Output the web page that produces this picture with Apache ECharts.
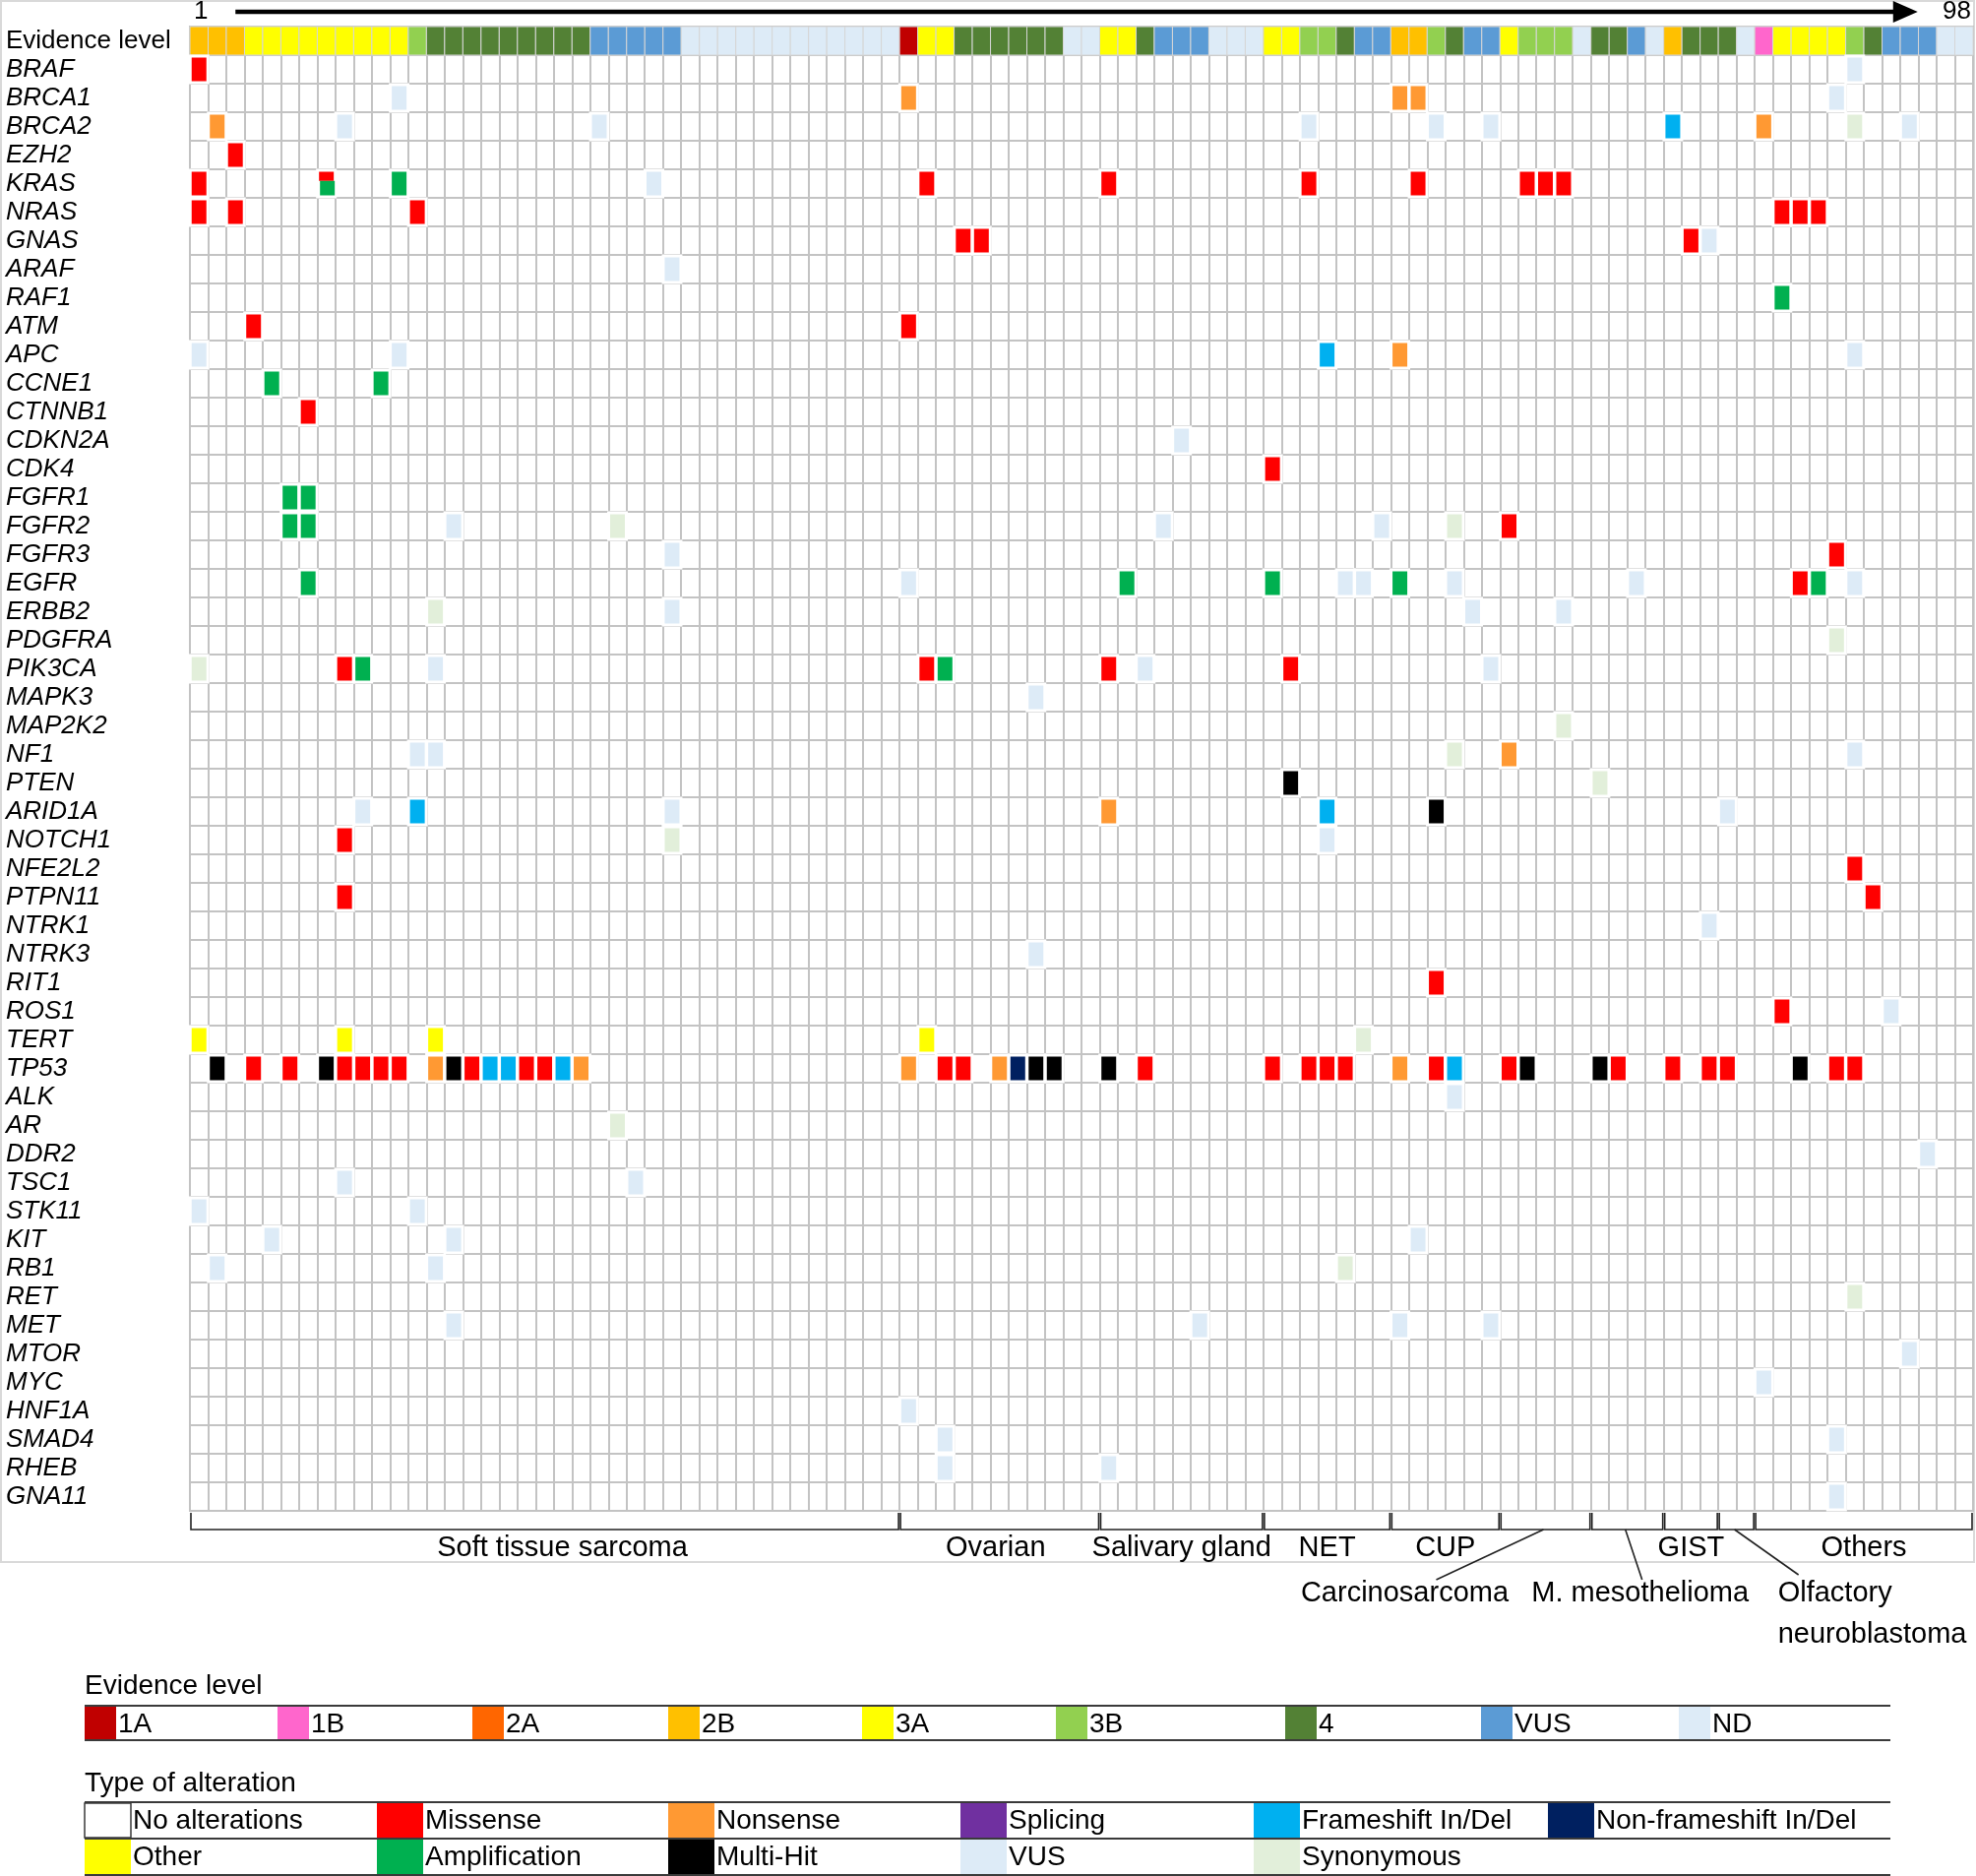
<!DOCTYPE html>
<html>
<head>
<meta charset="utf-8">
<script src="https://cdn.jsdelivr.net/npm/echarts@6/dist/echarts.min.js"></script>
<style>
html, body { margin: 0; padding: 0; background: #fff; }
#charts { width: 2008px; height: 1906px; }
</style>
</head>
<body>
<div id="charts"></div>
<script>
// genes (rows)
var genes = ['BRAF', 'BRCA1', 'BRCA2', 'EZH2', 'KRAS', 'NRAS', 'GNAS', 'ARAF', 'RAF1', 'ATM',
    'APC', 'CCNE1', 'CTNNB1', 'CDKN2A', 'CDK4', 'FGFR1', 'FGFR2', 'FGFR3', 'EGFR', 'ERBB2',
    'PDGFRA', 'PIK3CA', 'MAPK3', 'MAP2K2', 'NF1', 'PTEN', 'ARID1A', 'NOTCH1', 'NFE2L2', 'PTPN11',
    'NTRK1', 'NTRK3', 'RIT1', 'ROS1', 'TERT', 'TP53', 'ALK', 'AR', 'DDR2', 'TSC1',
    'STK11', 'KIT', 'RB1', 'RET', 'MET', 'MTOR', 'MYC', 'HNF1A', 'SMAD4', 'RHEB', 'GNA11'];

// samples 1..98
var samples = [];
for (var n = 1; n <= 98; n++) samples.push(String(n));

// evidence level per sample
var evidence = [
    '2B','2B','2B','3A','3A','3A','3A','3A','3A','3A',
    '3A','3A','3B','4','4','4','4','4','4','4',
    '4','4','VUS','VUS','VUS','VUS','VUS','ND','ND','ND',
    'ND','ND','ND','ND','ND','ND','ND','ND','ND','1A',
    '3A','3A','4','4','4','4','4','4','ND','ND',
    '3A','3A','4','VUS','VUS','VUS','ND','ND','ND','3A',
    '3A','3B','3B','4','VUS','VUS','2B','2B','3B','4',
    'VUS','VUS','3A','3B','3B','3B','ND','4','4','VUS',
    'ND','2B','4','4','4','ND','1B','3A','3A','3A',
    '3A','3B','4','VUS','VUS','VUS','ND','ND'
];
var evidenceNames = ['1A', '1B', '2A', '2B', '3A', '3B', '4', 'VUS', 'ND'];
var evidenceColors = ['#C00000', '#FF66CC', '#FF6600', '#FFC000', '#FFFF00', '#92D050', '#538135', '#5B9BD5', '#DDEBF7'];

// alteration types
var alterTypes = ['No alterations', 'Missense', 'Nonsense', 'Splicing', 'Frameshift In/Del', 'Non-frameshift In/Del',
    'Other', 'Amplification', 'Multi-Hit', 'VUS', 'Synonymous'];
var alterColors = ['#FFFFFF', '#FF0000', '#FF9933', '#7030A0', '#00B0F0', '#002060',
    '#FFFF00', '#00B050', '#000000', '#DDEBF7', '#E2EFDA'];

// [gene, sample, type]  ('+' joins two alterations in one cell)
var alterations = [
    ['BRAF',1,'Missense'],['BRAF',92,'VUS'],
    ['BRCA1',12,'VUS'],['BRCA1',40,'Nonsense'],['BRCA1',67,'Nonsense'],['BRCA1',68,'Nonsense'],['BRCA1',91,'VUS'],
    ['BRCA2',2,'Nonsense'],['BRCA2',9,'VUS'],['BRCA2',23,'VUS'],['BRCA2',62,'VUS'],['BRCA2',69,'VUS'],['BRCA2',72,'VUS'],
    ['BRCA2',82,'Frameshift In/Del'],['BRCA2',87,'Nonsense'],['BRCA2',92,'Synonymous'],['BRCA2',95,'VUS'],
    ['EZH2',3,'Missense'],
    ['KRAS',1,'Missense'],['KRAS',8,'Missense+Amplification'],['KRAS',12,'Amplification'],['KRAS',26,'VUS'],['KRAS',41,'Missense'],
    ['KRAS',51,'Missense'],['KRAS',62,'Missense'],['KRAS',68,'Missense'],['KRAS',74,'Missense'],['KRAS',75,'Missense'],['KRAS',76,'Missense'],
    ['NRAS',1,'Missense'],['NRAS',3,'Missense'],['NRAS',13,'Missense'],['NRAS',88,'Missense'],['NRAS',89,'Missense'],['NRAS',90,'Missense'],
    ['GNAS',43,'Missense'],['GNAS',44,'Missense'],['GNAS',83,'Missense'],['GNAS',84,'VUS'],
    ['ARAF',27,'VUS'],
    ['RAF1',88,'Amplification'],
    ['ATM',4,'Missense'],['ATM',40,'Missense'],
    ['APC',1,'VUS'],['APC',12,'VUS'],['APC',63,'Frameshift In/Del'],['APC',67,'Nonsense'],['APC',92,'VUS'],
    ['CCNE1',5,'Amplification'],['CCNE1',11,'Amplification'],
    ['CTNNB1',7,'Missense'],
    ['CDKN2A',55,'VUS'],
    ['CDK4',60,'Missense'],
    ['FGFR1',6,'Amplification'],['FGFR1',7,'Amplification'],
    ['FGFR2',6,'Amplification'],['FGFR2',7,'Amplification'],['FGFR2',15,'VUS'],['FGFR2',24,'Synonymous'],['FGFR2',54,'VUS'],
    ['FGFR2',66,'VUS'],['FGFR2',70,'Synonymous'],['FGFR2',73,'Missense'],
    ['FGFR3',27,'VUS'],['FGFR3',91,'Missense'],
    ['EGFR',7,'Amplification'],['EGFR',40,'VUS'],['EGFR',52,'Amplification'],['EGFR',60,'Amplification'],['EGFR',64,'VUS'],
    ['EGFR',65,'VUS'],['EGFR',67,'Amplification'],['EGFR',70,'VUS'],['EGFR',80,'VUS'],['EGFR',89,'Missense'],
    ['EGFR',90,'Amplification'],['EGFR',92,'VUS'],
    ['ERBB2',14,'Synonymous'],['ERBB2',27,'VUS'],['ERBB2',71,'VUS'],['ERBB2',76,'VUS'],
    ['PDGFRA',91,'Synonymous'],
    ['PIK3CA',1,'Synonymous'],['PIK3CA',9,'Missense'],['PIK3CA',10,'Amplification'],['PIK3CA',14,'VUS'],['PIK3CA',41,'Missense'],
    ['PIK3CA',42,'Amplification'],['PIK3CA',51,'Missense'],['PIK3CA',53,'VUS'],['PIK3CA',61,'Missense'],['PIK3CA',72,'VUS'],
    ['MAPK3',47,'VUS'],
    ['MAP2K2',76,'Synonymous'],
    ['NF1',13,'VUS'],['NF1',14,'VUS'],['NF1',70,'Synonymous'],['NF1',73,'Nonsense'],['NF1',92,'VUS'],
    ['PTEN',61,'Multi-Hit'],['PTEN',78,'Synonymous'],
    ['ARID1A',10,'VUS'],['ARID1A',13,'Frameshift In/Del'],['ARID1A',27,'VUS'],['ARID1A',51,'Nonsense'],
    ['ARID1A',63,'Frameshift In/Del'],['ARID1A',69,'Multi-Hit'],['ARID1A',85,'VUS'],
    ['NOTCH1',9,'Missense'],['NOTCH1',27,'Synonymous'],['NOTCH1',63,'VUS'],
    ['NFE2L2',92,'Missense'],
    ['PTPN11',9,'Missense'],['PTPN11',93,'Missense'],
    ['NTRK1',84,'VUS'],
    ['NTRK3',47,'VUS'],
    ['RIT1',69,'Missense'],
    ['ROS1',88,'Missense'],['ROS1',94,'VUS'],
    ['TERT',1,'Other'],['TERT',9,'Other'],['TERT',14,'Other'],['TERT',41,'Other'],['TERT',65,'Synonymous'],
    ['TP53',2,'Multi-Hit'],['TP53',4,'Missense'],['TP53',6,'Missense'],['TP53',8,'Multi-Hit'],['TP53',9,'Missense'],
    ['TP53',10,'Missense'],['TP53',11,'Missense'],['TP53',12,'Missense'],['TP53',14,'Nonsense'],['TP53',15,'Multi-Hit'],
    ['TP53',16,'Missense'],['TP53',17,'Frameshift In/Del'],['TP53',18,'Frameshift In/Del'],['TP53',19,'Missense'],
    ['TP53',20,'Missense'],['TP53',21,'Frameshift In/Del'],['TP53',22,'Nonsense'],['TP53',40,'Nonsense'],
    ['TP53',42,'Missense'],['TP53',43,'Missense'],['TP53',45,'Nonsense'],['TP53',46,'Non-frameshift In/Del'],
    ['TP53',47,'Multi-Hit'],['TP53',48,'Multi-Hit'],['TP53',51,'Multi-Hit'],['TP53',53,'Missense'],['TP53',60,'Missense'],
    ['TP53',62,'Missense'],['TP53',63,'Missense'],['TP53',64,'Missense'],['TP53',67,'Nonsense'],['TP53',69,'Missense'],
    ['TP53',70,'Frameshift In/Del'],['TP53',73,'Missense'],['TP53',74,'Multi-Hit'],['TP53',78,'Multi-Hit'],
    ['TP53',79,'Missense'],['TP53',82,'Missense'],['TP53',84,'Missense'],['TP53',85,'Missense'],['TP53',89,'Multi-Hit'],
    ['TP53',91,'Missense'],['TP53',92,'Missense'],
    ['ALK',70,'VUS'],
    ['AR',24,'Synonymous'],
    ['DDR2',96,'VUS'],
    ['TSC1',9,'VUS'],['TSC1',25,'VUS'],
    ['STK11',1,'VUS'],['STK11',13,'VUS'],
    ['KIT',5,'VUS'],['KIT',15,'VUS'],['KIT',68,'VUS'],
    ['RB1',2,'VUS'],['RB1',14,'VUS'],['RB1',64,'Synonymous'],
    ['RET',92,'Synonymous'],
    ['MET',15,'VUS'],['MET',56,'VUS'],['MET',67,'VUS'],['MET',72,'VUS'],
    ['MTOR',95,'VUS'],
    ['MYC',87,'VUS'],
    ['HNF1A',40,'VUS'],
    ['SMAD4',42,'VUS'],['SMAD4',91,'VUS'],
    ['RHEB',42,'VUS'],['RHEB',51,'VUS'],
    ['GNA11',91,'VUS']
];

// tumour groups along the samples
var groupNames = ['Soft tissue sarcoma', 'Ovarian', 'Salivary gland', 'NET', 'CUP', 'Carcinosarcoma',
    'M. mesothelioma', 'GIST', 'Olfactory neuroblastoma', 'Others'];
var groupSizes = [39, 11, 9, 7, 6, 5, 4, 3, 2, 12];

(function() {

    var FONT = 'Liberation Sans, Arial, sans-serif';
    var rows = ['Evidence level'].concat(genes);
    var lastRow = genes[genes.length - 1];

    // labels pulled below the bracket with a leader line
    var callouts = {
        'Carcinosarcoma': { line: [-111, 51], x: -143, y: 65, align: 'center' },
        'M. mesothelioma': { line: [15, 51], x: 13, y: 65, align: 'center' },
        'Olfactory neuroblastoma': { line: [63, 46], x: 42, y: 44, align: 'left', text: 'Olfactory\nneuroblastoma' }
    };
    // small horizontal nudges of the plain labels
    var labelShift = { 'Soft tissue sarcoma': 18, 'Ovarian': -4 };

    var evidenceData = evidence.map(function(ev, i) {
        return [i, 'Evidence level', evidenceNames.indexOf(ev)];
    });
    var alterData = alterations.map(function(a) {
        return [a[1] - 1, a[0]];
    });
    var groupData = [];
    var start = 0;
    groupSizes.forEach(function(size, gi) {
        groupData.push([start, lastRow, start + size - 1, gi]);
        start += size;
    });

    //证据等级
    var renderEvidence = function(params, api) {
        var c = api.coord([api.value(0), api.value(1)]);
        var s = api.size([1, 1]);
        return {
            type: 'rect',
            shape: { x: c[0] - s[0] / 2, y: c[1] - s[1] / 2, width: s[0], height: s[1] },
            style: { fill: evidenceColors[api.value(2)], stroke: '#d6d6d6', lineWidth: 1 }
        };
    };

    //突变格子
    var renderAlter = function(params, api) {
        var c = api.coord([api.value(0), api.value(1)]);
        var s = api.size([1, 1]);
        var w = s[0] - 0.5, h = s[1] - 2;
        var x = c[0] - w / 2, y = c[1] - h / 2;
        var types = alterations[params.dataIndex][2].split('+');
        if (types.length === 1) {
            return {
                type: 'rect',
                shape: { x: x, y: y, width: w, height: h },
                style: { fill: alterColors[alterTypes.indexOf(types[0])], stroke: '#fff', lineWidth: 3 }
            };
        }
        var topH = h * 0.4;
        return {
            type: 'group',
            children: [
                { type: 'rect', shape: { x: x, y: y, width: w, height: h }, style: { fill: '#fff', stroke: '#fff', lineWidth: 3 } },
                { type: 'rect', shape: { x: x + 1.5, y: y + 1.5, width: w - 3, height: topH - 1.5 },
                    style: { fill: alterColors[alterTypes.indexOf(types[0])] } },
                { type: 'rect', shape: { x: x + 2.5, y: y + topH, width: w - 3, height: h - topH - 1.5 },
                    style: { fill: alterColors[alterTypes.indexOf(types[1])] } }
            ]
        };
    };

    //分组括号
    var renderGroup = function(params, api) {
        var a = api.coord([api.value(0), api.value(1)]);
        var b = api.coord([api.value(2), api.value(1)]);
        var s = api.size([1, 1]);
        var x0 = a[0] - s[0] / 2, x1 = b[0] + s[0] / 2;
        var yTop = a[1] + s[1] / 2 + 2;
        var yLine = yTop + 17;
        var name = groupNames[api.value(3)];
        var cx = (x0 + x1) / 2;
        var children = [{
            type: 'polyline',
            shape: { points: [[x0 + 1, yTop], [x0 + 1, yLine], [x1 - 1, yLine], [x1 - 1, yTop]] },
            style: { stroke: '#222', lineWidth: 1.6, fill: null }
        }];
        var co = callouts[name];
        if (co) {
            children.push({
                type: 'line',
                shape: { x1: cx - 2, y1: yLine, x2: cx + co.line[0], y2: yLine + co.line[1] },
                style: { stroke: '#222', lineWidth: 1.6 }
            });
            children.push({
                type: 'text',
                style: {
                    text: co.text || name, x: cx + co.x, y: yLine + co.y,
                    align: co.align, verticalAlign: co.text ? 'top' : 'middle',
                    font: '29px ' + FONT, fill: '#000', lineHeight: 42
                }
            });
        } else {
            children.push({
                type: 'text',
                style: { text: name, x: cx + (labelShift[name] || 0), y: yLine + 19, align: 'center', verticalAlign: 'middle', font: '29px ' + FONT, fill: '#000' }
            });
        }
        return { type: 'group', children: children };
    };

    //顶部箭头
    var renderArrow = function(params, api) {
        var a = api.coord([api.value(0), api.value(1)]);
        var b = api.coord([api.value(2), api.value(1)]);
        var s = api.size([1, 1]);
        var y = a[1] - s[1] / 2 - 15;
        var tip = b[0] - 47;
        return {
            type: 'group',
            children: [
                { type: 'text', style: { text: samples[0], x: a[0] + 2, y: y, align: 'center', verticalAlign: 'middle', font: '26px ' + FONT, fill: '#000' } },
                { type: 'line', shape: { x1: a[0] + 37, y1: y, x2: tip - 20, y2: y }, style: { stroke: '#000', lineWidth: 4.5 } },
                { type: 'polygon', shape: { points: [[tip - 25, y - 11], [tip, y], [tip - 25, y + 11]] }, style: { fill: '#000' } },
                { type: 'text', style: { text: samples[samples.length - 1], x: b[0] + s[0] / 2 - 2, y: y, align: 'right', verticalAlign: 'middle', font: '26px ' + FONT, fill: '#000' } }
            ]
        };
    };

    //图例
    var legendGraphic = function() {
        var g = [];
        var lineX0 = 86, lineX1 = 1921;
        var txt = function(t, x, y) {
            return { type: 'text', style: { text: t, x: x, y: y, verticalAlign: 'middle', font: '28px ' + FONT, fill: '#000' } };
        };
        var hline = function(y) {
            return { type: 'line', shape: { x1: lineX0, y1: y, x2: lineX1, y2: y }, style: { stroke: '#3a3a3a', lineWidth: 2 } };
        };

        g.push(txt('Evidence level', 86, 1713));
        g.push(hline(1733), hline(1768));
        var evX = [86, 282, 480, 679, 876, 1073, 1306, 1505, 1706];
        evidenceNames.forEach(function(name, i) {
            g.push({ type: 'rect', shape: { x: evX[i], y: 1734, width: 32, height: 33 }, style: { fill: evidenceColors[i] } });
            g.push(txt(name, evX[i] + 34, 1752));
        });

        g.push(txt('Type of alteration', 86, 1812));
        g.push(hline(1831), hline(1868), hline(1905));
        var alX = [86, 383, 679, 976, 1274, 1573];
        alterTypes.forEach(function(name, i) {
            var col = i < 6 ? i : i - 6;
            var y = i < 6 ? 1832 : 1869;
            var sw = { type: 'rect', shape: { x: alX[col], y: y, width: 47, height: 35 }, style: { fill: alterColors[i] } };
            if (i === 0) {
                sw.style.stroke = '#3a3a3a';
                sw.style.lineWidth = 1.5;
            }
            g.push(sw);
            g.push(txt(name, alX[col] + 49, y + 18));
        });

        // outer frame of the chart panel
        g.push({ type: 'rect', z: -1, shape: { x: 1, y: 1, width: 2005, height: 1586 }, style: { fill: null, stroke: '#d9d9d9', lineWidth: 2 } });
        return g;
    };

    var option = {
        animation: false,
        backgroundColor: '#fff',
        grid: {
            left: 193,
            top: 27,
            width: 1812,
            height: 1508,
            show: true,
            borderColor: '#c3c3c3',
            borderWidth: 2
        },
        xAxis: {
            type: 'category',
            data: samples,
            axisLine: { show: false },
            axisTick: { show: false },
            axisLabel: { show: false },
            splitLine: { show: true, interval: 0, lineStyle: { color: '#c3c3c3', width: 2 } }
        },
        yAxis: {
            type: 'category',
            data: rows,
            inverse: true,
            axisLine: { show: false },
            axisTick: { show: false },
            splitLine: { show: true, interval: 0, lineStyle: { color: '#c3c3c3', width: 2 } },
            axisLabel: {
                interval: 0,
                align: 'left',
                margin: 187,
                color: '#000',
                fontFamily: FONT,
                fontSize: 26,
                fontStyle: 'italic',
                formatter: function(value, ind) {
                    if (ind === 0) {
                        return '{ev|' + value + '}';
                    }
                    return value;
                },
                rich: {
                    ev: { fontStyle: 'normal', fontSize: 26, fontFamily: FONT, color: '#000' }
                }
            }
        },
        series: [
            { type: 'custom', renderItem: renderEvidence, data: evidenceData, clip: false },
            { type: 'custom', renderItem: renderAlter, data: alterData, clip: false, z: 3 },
            { type: 'custom', renderItem: renderGroup, data: groupData, clip: false },
            { type: 'custom', renderItem: renderArrow, data: [[0, 'Evidence level', samples.length - 1]], clip: false }
        ],
        graphic: legendGraphic()
    };

    var myChart = echarts.init(document.getElementById('charts'));
    myChart.setOption(option);
})();
</script>
</body>
</html>
